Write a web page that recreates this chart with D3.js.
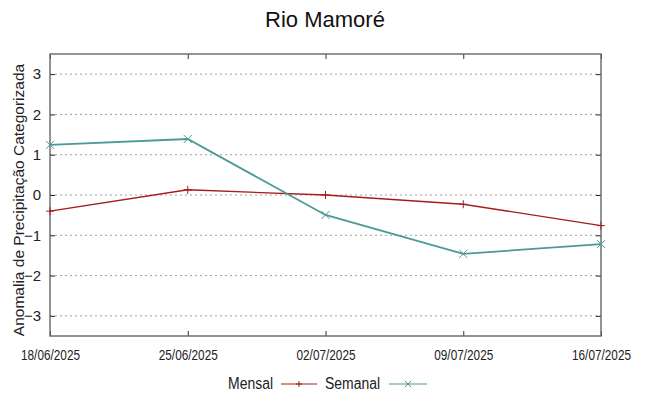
<!DOCTYPE html>
<html>
<head>
<meta charset="utf-8">
<script src="https://cdn.jsdelivr.net/npm/d3@7"></script>
<style>
  body { margin: 0; background: #fff; }
  text { font-family: "Liberation Sans", Arial, sans-serif; }
</style>
</head>
<body>
<div id="chart"></div>
<script>
const dates = ["18/06/2025", "25/06/2025", "02/07/2025", "09/07/2025", "16/07/2025"];
const mensal = [-0.40, 0.13, 0.0, -0.23, -0.76];
const semanal = [1.245, 1.39, -0.495, -1.46, -1.22];
const yTicks = [-3, -2, -1, 0, 1, 2, 3];

const width = 649, height = 396;
const margin = { top: 54, right: 48, bottom: 60, left: 50 };

const svg = d3.select("#chart")
    .append("svg")
    .attr("width", width)
    .attr("height", height);

const x = d3.scalePoint()
    .domain(dates)
    .range([margin.left, width - margin.right]);

const y = d3.scaleLinear()
    .domain([-3.5, 3.5])
    .range([height - margin.bottom, margin.top]);

// grid lines
svg.append("g")
    .selectAll("line")
    .data(yTicks)
    .join("line")
    .attr("x1", margin.left)
    .attr("x2", width - margin.right)
    .attr("y1", d => y(d))
    .attr("y2", d => y(d))
    .attr("stroke", "#a0a0a0")
    .attr("stroke-width", 1)
    .attr("stroke-dasharray", "2,3");

// y axis ticks (inward, mirrored)
const tickLen = 5;
const yAxisL = d3.axisLeft(y).tickValues(yTicks).tickFormat(d3.format("d"))
    .tickSizeInner(-tickLen).tickSizeOuter(0).tickPadding(9);
const gy = svg.append("g").attr("transform", `translate(${margin.left},0)`).call(yAxisL);
gy.select(".domain").remove();
gy.selectAll("text").attr("font-size", 15).attr("fill", "#222").attr("font-family", "Liberation Sans, Arial, sans-serif");
gy.selectAll("line").attr("stroke", "#222");

const yAxisR = d3.axisRight(y).tickValues(yTicks).tickSizeInner(-tickLen).tickSizeOuter(0).tickFormat("");
const gyr = svg.append("g").attr("transform", `translate(${width - margin.right},0)`).call(yAxisR);
gyr.select(".domain").remove();
gyr.selectAll("line").attr("stroke", "#222");

// x axis
const xAxisB = d3.axisBottom(x).tickSizeInner(-tickLen).tickSizeOuter(0).tickPadding(14);
const gx = svg.append("g").attr("transform", `translate(0,${height - margin.bottom})`).call(xAxisB);
gx.select(".domain").remove();
gx.selectAll("text").attr("font-size", 14.5).attr("fill", "#222")
    .attr("textLength", 59).attr("lengthAdjust", "spacingAndGlyphs");
gx.selectAll("line").attr("stroke", "#333");

const xAxisT = d3.axisTop(x).tickSizeInner(-tickLen).tickSizeOuter(0).tickFormat("");
const gxt = svg.append("g").attr("transform", `translate(0,${margin.top})`).call(xAxisT);
gxt.select(".domain").remove();
gxt.selectAll("line").attr("stroke", "#333");

// border
svg.append("rect")
    .attr("x", margin.left)
    .attr("y", margin.top)
    .attr("width", width - margin.left - margin.right)
    .attr("height", height - margin.top - margin.bottom)
    .attr("fill", "none")
    .attr("stroke", "#666")
    .attr("stroke-width", 1.4);

const series = [
    { name: "Mensal", values: mensal, color: "#a41c1c", marker: "plus", width: 1.3 },
    { name: "Semanal", values: semanal, color: "#4c9996", marker: "cross", width: 1.8 }
];

const line = d3.line()
    .x((d, i) => x(dates[i]))
    .y(d => y(d));

function drawMarker(g, type, cx, cy, color, s = 4) {
    if (type === "plus") {
        g.append("path")
            .attr("d", `M${cx - s},${cy}H${cx + s}M${cx},${cy - s}V${cy + s}`)
            .attr("stroke", color).attr("stroke-width", 1);
    } else {
        g.append("path")
            .attr("d", `M${cx - s},${cy - s}L${cx + s},${cy + s}M${cx - s},${cy + s}L${cx + s},${cy - s}`)
            .attr("stroke", color).attr("stroke-width", 1);
    }
}

series.forEach(s => {
    svg.append("path")
        .datum(s.values)
        .attr("d", line)
        .attr("fill", "none")
        .attr("stroke", s.color)
        .attr("stroke-width", s.width);
    const mg = svg.append("g");
    s.values.forEach((v, i) => drawMarker(mg, s.marker, x(dates[i]), y(v), s.color));
});

// title
svg.append("text")
    .attr("x", 325)
    .attr("y", 27)
    .attr("text-anchor", "middle")
    .attr("font-size", 22)
    .attr("fill", "#111")
    .text("Rio Mamoré");

// y label
svg.append("text")
    .attr("transform", `translate(24,200) rotate(-90)`)
    .attr("text-anchor", "middle")
    .attr("font-size", 15.5)
    .attr("fill", "#222")
    .text("Anomalia de Precipitação Categorizada");

// legend
const legY = 384;
const legend = [
    { s: series[0], textX: 228, textLen: 45, lineX: 281, lineEnd: 317 },
    { s: series[1], textX: 325, textLen: 55, lineX: 389, lineEnd: 427 }
];
legend.forEach(l => {
    svg.append("text")
        .attr("x", l.textX)
        .attr("y", legY + 4.5)
        .attr("font-size", 16)
        .attr("textLength", l.textLen)
        .attr("lengthAdjust", "spacingAndGlyphs")
        .attr("fill", "#222")
        .text(l.s.name);
    svg.append("line")
        .attr("x1", l.lineX).attr("x2", l.lineEnd)
        .attr("y1", legY).attr("y2", legY)
        .attr("stroke", l.s.color).attr("stroke-width", 1.2);
    drawMarker(svg, l.s.marker, (l.lineX + l.lineEnd) / 2, legY, l.s.color, 3);
});
</script>
</body>
</html>
